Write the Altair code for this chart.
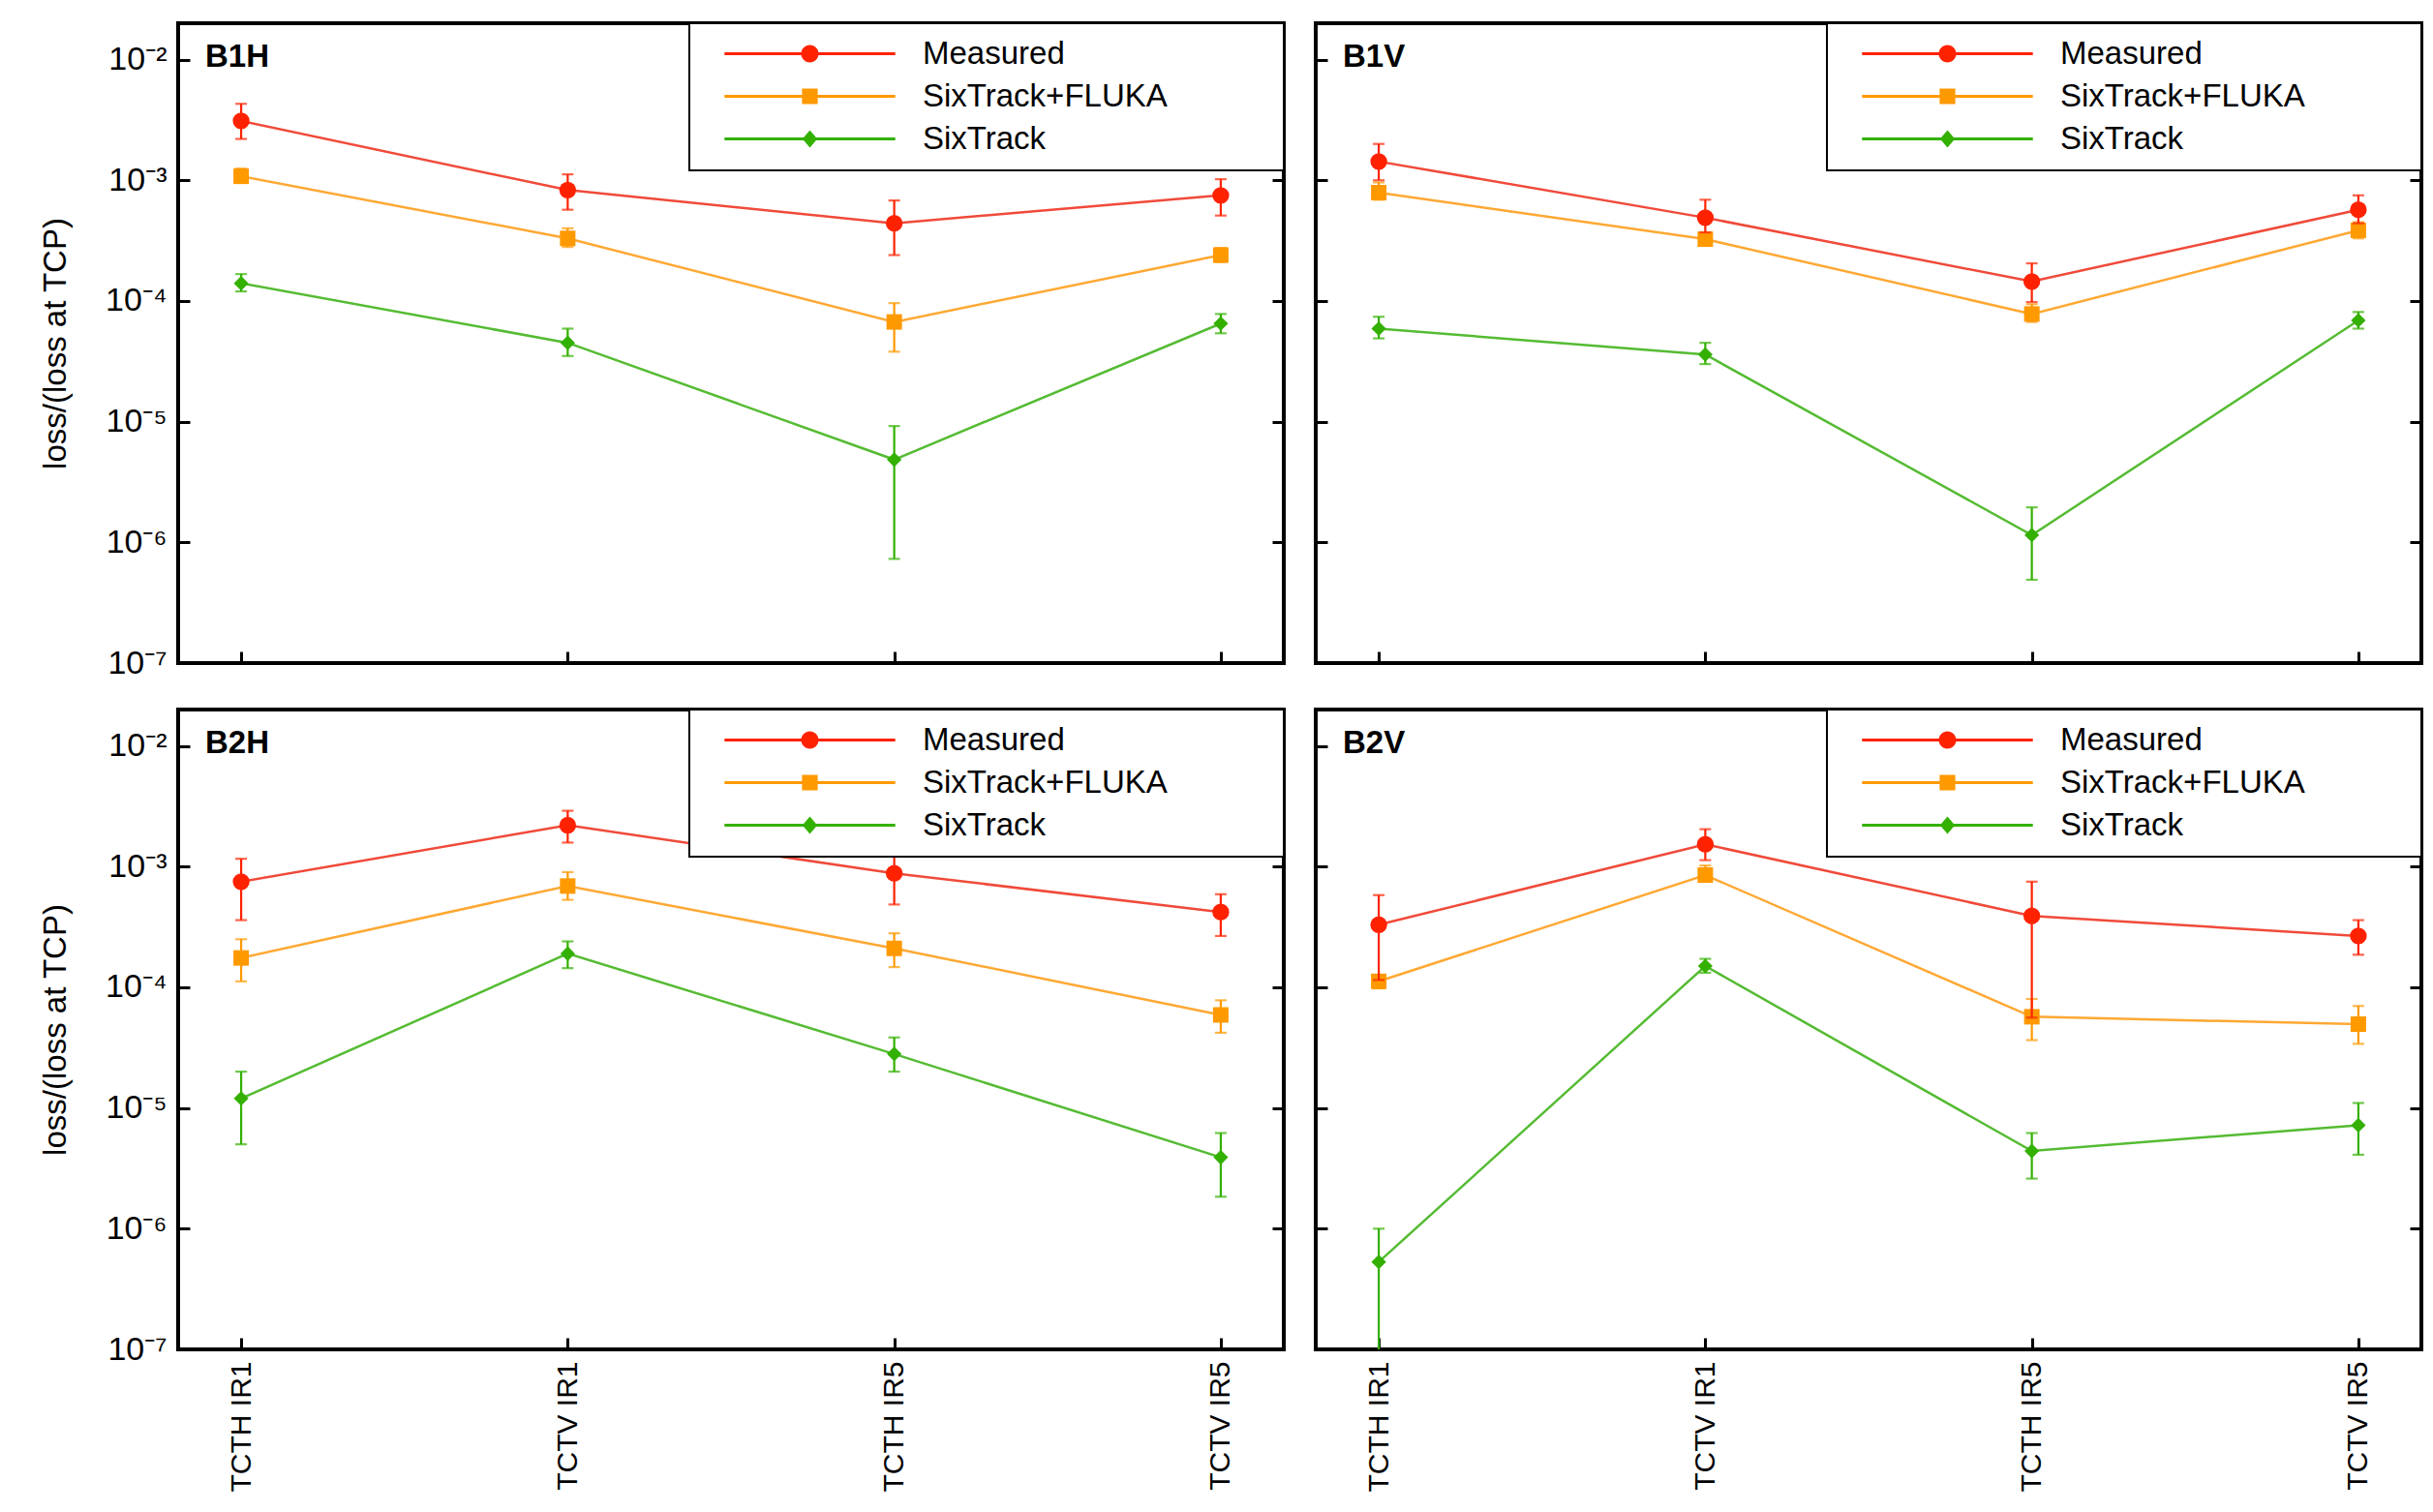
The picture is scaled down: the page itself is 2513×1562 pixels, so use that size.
import altair as alt
import pandas as pd

FONT = "Liberation Sans"

categories = ["TCTH IR1", "TCTV IR1", "TCTH IR5", "TCTV IR5"]
panel_names = ["B1H", "B1V", "B2H", "B2V"]
series_names = ["Measured", "SixTrack+FLUKA", "SixTrack"]
marker_colors = ["#ff2200", "#ff9900", "#33b000"]
line_colors = ["#f04a3a", "#ffa833", "#55bb33"]

# ---- values (value, lower error, upper error) ----
b1h_measured = [3.1e-3, 8.3e-4, 4.4e-4, 7.5e-4]
b1h_measured_lo = [2.2e-3, 5.7e-4, 2.4e-4, 5.1e-4]
b1h_measured_hi = [4.3e-3, 1.12e-3, 6.8e-4, 1.02e-3]
b1h_fluka = [1.08e-3, 3.3e-4, 6.7e-5, 2.4e-4]
b1h_fluka_lo = [9.5e-4, 2.8e-4, 3.8e-5, 2.1e-4]
b1h_fluka_hi = [1.25e-3, 4.0e-4, 9.6e-5, 2.75e-4]
b1h_sixtrack = [1.4e-4, 4.5e-5, 4.85e-6, 6.5e-5]
b1h_sixtrack_lo = [1.2e-4, 3.5e-5, 7.3e-7, 5.4e-5]
b1h_sixtrack_hi = [1.67e-4, 5.9e-5, 9.2e-6, 7.8e-5]

b1v_measured = [1.43e-3, 4.9e-4, 1.45e-4, 5.7e-4]
b1v_measured_lo = [1.0e-3, 3.7e-4, 9.8e-5, 4.4e-4]
b1v_measured_hi = [2.0e-3, 6.9e-4, 2.05e-4, 7.5e-4]
b1v_fluka = [7.9e-4, 3.25e-4, 7.8e-5, 3.85e-4]
b1v_fluka_lo = [6.9e-4, 2.9e-4, 6.7e-5, 3.3e-4]
b1v_fluka_hi = [9.6e-4, 3.7e-4, 9.4e-5, 4.5e-4]
b1v_sixtrack = [5.9e-5, 3.6e-5, 1.15e-6, 6.9e-5]
b1v_sixtrack_lo = [4.9e-5, 3.0e-5, 4.9e-7, 5.9e-5]
b1v_sixtrack_hi = [7.4e-5, 4.5e-5, 1.95e-6, 8.1e-5]

b2h_measured = [7.5e-4, 2.2e-3, 8.8e-4, 4.2e-4]
b2h_measured_lo = [3.6e-4, 1.58e-3, 4.85e-4, 2.66e-4]
b2h_measured_hi = [1.16e-3, 2.9e-3, 1.36e-3, 5.9e-4]
b2h_fluka = [1.75e-4, 6.9e-4, 2.1e-4, 5.9e-5]
b2h_fluka_lo = [1.12e-4, 5.3e-4, 1.47e-4, 4.2e-5]
b2h_fluka_hi = [2.5e-4, 9.0e-4, 2.8e-4, 7.8e-5]
b2h_sixtrack = [1.2e-5, 1.9e-4, 2.8e-5, 3.9e-6]
b2h_sixtrack_lo = [5.0e-6, 1.44e-4, 2.0e-5, 1.84e-6]
b2h_sixtrack_hi = [2.0e-5, 2.4e-4, 3.84e-5, 6.2e-6]

b2v_measured = [3.3e-4, 1.53e-3, 3.9e-4, 2.66e-4]
b2v_measured_lo = [1.15e-4, 1.13e-3, 5.6e-5, 1.86e-4]
b2v_measured_hi = [5.8e-4, 2.04e-3, 7.5e-4, 3.6e-4]
b2v_fluka = [1.12e-4, 8.5e-4, 5.7e-5, 4.95e-5]
b2v_fluka_lo = [9.8e-5, 7.5e-4, 3.65e-5, 3.4e-5]
b2v_fluka_hi = [1.26e-4, 1.02e-3, 8.0e-5, 7.0e-5]
b2v_sixtrack = [5.3e-7, 1.5e-4, 4.4e-6, 7.2e-6]
b2v_sixtrack_lo = [5.0e-8, 1.32e-4, 2.6e-6, 4.1e-6]
b2v_sixtrack_hi = [1.0e-6, 1.72e-4, 6.2e-6, 1.1e-5]

tick_values = [1e-7, 1e-6, 1e-5, 1e-4, 1e-3, 1e-2]

table = {
    "B1H": [(b1h_measured, b1h_measured_lo, b1h_measured_hi),
            (b1h_fluka, b1h_fluka_lo, b1h_fluka_hi),
            (b1h_sixtrack, b1h_sixtrack_lo, b1h_sixtrack_hi)],
    "B1V": [(b1v_measured, b1v_measured_lo, b1v_measured_hi),
            (b1v_fluka, b1v_fluka_lo, b1v_fluka_hi),
            (b1v_sixtrack, b1v_sixtrack_lo, b1v_sixtrack_hi)],
    "B2H": [(b2h_measured, b2h_measured_lo, b2h_measured_hi),
            (b2h_fluka, b2h_fluka_lo, b2h_fluka_hi),
            (b2h_sixtrack, b2h_sixtrack_lo, b2h_sixtrack_hi)],
    "B2V": [(b2v_measured, b2v_measured_lo, b2v_measured_hi),
            (b2v_fluka, b2v_fluka_lo, b2v_fluka_hi),
            (b2v_sixtrack, b2v_sixtrack_lo, b2v_sixtrack_hi)],
}

rows = []
for p in panel_names:
    for s, (vals, los, his) in zip(series_names, table[p]):
        for c, v, lo, hi in zip(categories, vals, los, his):
            rows.append({"panel": p, "target": c, "series": s, "value": v, "lo": lo, "hi": hi})
df = pd.DataFrame(rows)

W, H = 1142, 661

# legend symbols: line segment with the marker in the middle (unit = sqrt(size)/2)
legend_paths = [
    "M-9.8,-0.17H9.8V0.17H-9.8Z M1,0A1,1 0 1,1 -1,0A1,1 0 1,1 1,0Z",
    "M-9.8,-0.17H9.8V0.17H-9.8Z M-0.9,-0.9H0.9V0.9H-0.9Z",
    "M-9.8,-0.17H9.8V0.17H-9.8Z M0,-1L0.85,0L0,1L-0.85,0Z",
]
marker_shapes = ["circle", "square", "diamond"]
marker_sizes = [300, 256, 230]

label_expr = ("'10' + ['\u207b\u2077','\u207b\u2076','\u207b\u2075','\u207b\u2074',"
              "'\u207b\u00b3','\u207b\u00b2'][round(log(datum.value)/LN10)+7]")


def make_panel(name, left, bottom):
    d = df[df["panel"] == name]
    xaxis = dict(
        ticks=False, domain=False, title=None, grid=True, gridColor="black",
        gridWidth=3, gridOpacity=1, gridDash=[0, H - 12, 12, 4000], minExtent=0,
    )
    if bottom:
        xaxis.update(labels=True, labelAngle=-90, labelFontSize=30, labelFont=FONT,
                     labelColor="black", labelPadding=12)
    else:
        xaxis.update(labels=False, labelPadding=0, maxExtent=0)
    x = alt.X(
        "target:N",
        sort=categories,
        scale=alt.Scale(type="point", domain=categories, padding=0.193),
        axis=alt.Axis(**xaxis),
    )
    yaxis = dict(
        values=tick_values, ticks=False, domain=False, grid=True,
        gridColor="black", gridWidth=3, gridOpacity=1,
        gridDash=[12, W - 24, 12, 4000],
    )
    if left:
        yaxis.update(labels=True, labelExpr=label_expr, labelFontSize=34, labelFont=FONT,
                     labelColor="black", labelPadding=12,
                     title="loss/(loss at TCP)", titleFontSize=33, titleFont=FONT,
                     titleFontWeight="normal", titleColor="black", titlePadding=34)
    else:
        yaxis.update(labels=False, title=None, minExtent=0, maxExtent=0, labelPadding=0)
    y_scale = alt.Scale(type="log", domain=[1e-7, 0.02], nice=False)

    layers = []
    for i in [2, 1, 0]:
        s = series_names[i]
        sd = alt.Chart(d).transform_filter(alt.datum.series == s)
        yv = alt.Y("value:Q", scale=y_scale, axis=alt.Axis(**yaxis))
        layers.append(sd.mark_line(color=line_colors[i], strokeWidth=2.5, clip=True)
                      .encode(x=x, y=yv))
        layers.append(sd.mark_rule(color=marker_colors[i], strokeWidth=2.2, clip=True)
                      .encode(x=x, y=alt.Y("lo:Q", scale=y_scale), y2="hi:Q"))
        layers.append(sd.mark_tick(color=marker_colors[i], thickness=2.2, size=12, clip=True)
                      .encode(x=x, y=alt.Y("lo:Q", scale=y_scale)))
        layers.append(sd.mark_tick(color=marker_colors[i], thickness=2.2, size=12, clip=True)
                      .encode(x=x, y=alt.Y("hi:Q", scale=y_scale)))
        layers.append(sd.mark_point(shape=marker_shapes[i], filled=True, opacity=1,
                                    size=marker_sizes[i], color=marker_colors[i], clip=True)
                      .encode(x=x, y=alt.Y("value:Q", scale=y_scale)))

    leg = alt.Legend(
        title="\u00a0", titleOrient="right", titlePadding=105, titleFontSize=20,
        orient="top-right", offset=0, padding=15,
        strokeColor="black", fillColor="white",
        symbolSize=324, symbolStrokeWidth=0, symbolOffset=93, labelOffset=100,
        labelFontSize=33, labelFont=FONT, labelColor="black",
        labelLimit=600,
    )
    dummy = (
        alt.Chart(d)
        .transform_filter("false")
        .mark_point(filled=True, opacity=1)
        .encode(
            x=x,
            y=alt.Y("value:Q", scale=y_scale),
            color=alt.Color("series:N", scale=alt.Scale(domain=series_names, range=marker_colors),
                            legend=leg),
            shape=alt.Shape("series:N", scale=alt.Scale(domain=series_names, range=legend_paths),
                            legend=leg),
        )
    )
    label = (
        alt.Chart(pd.DataFrame({"t": [name]}))
        .mark_text(align="left", baseline="alphabetic", fontSize=33, fontWeight="bold",
                   font=FONT, color="black")
        .encode(text="t:N", x=alt.value(28), y=alt.value(45))
    )
    return alt.layer(*layers, dummy, label).properties(width=W, height=H)


top = alt.hconcat(make_panel("B1H", True, False), make_panel("B1V", False, False),
                  spacing=28).resolve_scale(color="independent", shape="independent") \
    .resolve_legend(color="independent", shape="independent")
bottom = alt.hconcat(make_panel("B2H", True, True), make_panel("B2V", False, True),
                     spacing=28).resolve_scale(color="independent", shape="independent") \
    .resolve_legend(color="independent", shape="independent")

chart = (
    alt.vconcat(top, bottom, spacing=26)
    .resolve_scale(color="independent", shape="independent")
    .resolve_legend(color="independent", shape="independent")
    .properties(padding={"left": 31, "top": 13, "right": 0, "bottom": 0}, background="white")
    .configure_view(stroke="black", strokeWidth=4)
    .configure_legend(strokeWidth=2, cornerRadius=0, rowPadding=10)
)

chart.save("out.html", embed_options={"renderer": "svg", "actions": False})
